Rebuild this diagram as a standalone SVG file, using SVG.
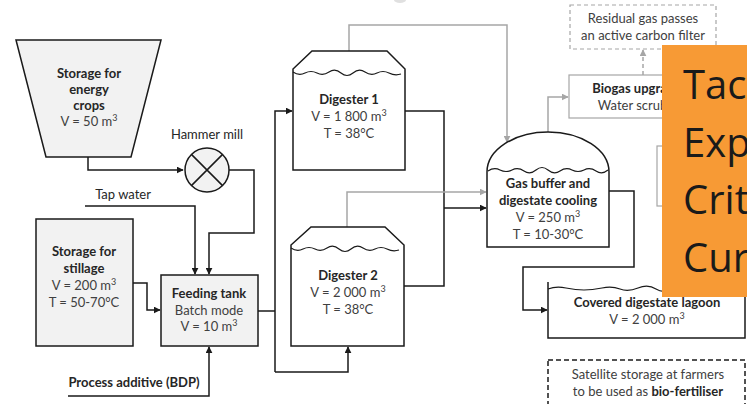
<svg xmlns="http://www.w3.org/2000/svg" width="747" height="404" viewBox="0 0 747 404">
<defs>
<style>
text{font-family:Lato,"Open Sans","Liberation Sans",sans-serif;font-size:13px;fill:#404040;text-anchor:middle}
.b{font-weight:bold;fill:#262626}
.sup{font-size:9px}
.k{stroke:#1a1a1a;stroke-width:1.5;fill:none}
.g{stroke:#a6a6a6;stroke-width:1.5;fill:none}
.shape{stroke:#1a1a1a;stroke-width:1.5;fill:#fff}
.grey{fill:#f2f2f2}
.wave{stroke:#1a1a1a;stroke-width:1.2;fill:none}
.big{font-family:"Open Sans",Lato,sans-serif;font-size:40px;fill:#1a1a1a;text-anchor:start}
</style>
<marker id="ak" viewBox="0 0 10 10" refX="9" refY="5" markerWidth="7" markerHeight="7" orient="auto" markerUnits="userSpaceOnUse"><path d="M0,0 L10,5 L0,10 Z" fill="#1a1a1a"/></marker>
<marker id="ag" viewBox="0 0 10 10" refX="9" refY="5" markerWidth="7" markerHeight="7" orient="auto" markerUnits="userSpaceOnUse"><path d="M0,0 L10,5 L0,10 Z" fill="#a6a6a6"/></marker>
</defs>
<rect width="747" height="404" fill="#fff"/>
<ellipse cx="400" cy="0" rx="6" ry="3" fill="#e0e0e0"/>

<g id="connectors">
<path class="k" d="M88,157 V170 H183" marker-end="url(#ak)"/>
<path class="k" d="M229,170 H254 V233 H209 V274" marker-end="url(#ak)"/>
<path class="k" d="M85,206 H195 V274" marker-end="url(#ak)"/>
<path class="k" d="M133,283 H147 V310 H160" marker-end="url(#ak)"/>
<path class="k" d="M68,396 H209 V347" marker-end="url(#ak)"/>
<path class="k" d="M258,311 H275"/>
<path class="k" d="M275,372 V111 H292" marker-end="url(#ak)"/>
<path class="k" d="M275,372 H348 V347" marker-end="url(#ak)"/>
<path class="k" d="M405,111 H444 V286 H404"/>
<path class="k" d="M444,208 H486" marker-end="url(#ak)"/>
<path class="g" d="M349,51 V25 H507 V142" marker-end="url(#ag)"/>
<path class="g" d="M347,227 V192 H486" marker-end="url(#ag)"/>
<path class="g" d="M548,132 V97 H568" marker-end="url(#ag)"/>
<path class="g" d="M643,75 V50" stroke-dasharray="4,3" marker-end="url(#ag)"/>
<path class="k" d="M609,191 H634 V267 H523 V310 H547" marker-end="url(#ak)"/>
</g>

<g id="storage-energy-crops">
<path class="shape grey" d="M16,40 H161 L131,157 H46 Z"/>
<text class="b" x="89" y="78">Storage for</text>
<text class="b" x="89" y="94">energy</text>
<text class="b" x="89" y="110">crops</text>
<text x="89" y="126">V = 50 m<tspan class="sup" dy="-5">3</tspan></text>
</g>

<g id="hammer-mill">
<circle class="shape grey" cx="207" cy="170" r="22"/>
<path class="k" d="M191.4,154.4 L222.6,185.6 M222.6,154.4 L191.4,185.6"/>
<text x="207" y="139" style="fill:#262626">Hammer mill</text>
</g>

<g id="tap-water"><text x="123" y="199" style="fill:#262626">Tap water</text></g>

<g id="storage-stillage">
<rect class="shape grey" x="36" y="219" width="97" height="127"/>
<text class="b" x="84" y="256">Storage for</text>
<text class="b" x="84" y="273">stillage</text>
<text x="84" y="290">V = 200 m<tspan class="sup" dy="-5">3</tspan></text>
<text x="84" y="307">T = 50-70°C</text>
</g>

<g id="feeding-tank">
<rect class="shape grey" x="161" y="275" width="97" height="71"/>
<text class="b" x="209" y="298">Feeding tank</text>
<text x="209" y="315">Batch mode</text>
<text x="209" y="331">V = 10 m<tspan class="sup" dy="-5">3</tspan></text>
</g>

<g id="process-additive"><text class="b" x="134" y="387">Process additive (BDP)</text></g>

<g id="digester-1">
<path class="shape" d="M293,170 V69 L312,51 H387 L405,69 V170 Z"/>
<path class="wave" d="M293,72 q6,4 12,1 t12,0 t12,-1 t12,1 t12,0 t12,-1 t12,1 t12,0 t12,1"/>
<text class="b" x="349" y="104">Digester 1</text>
<text x="349" y="121">V = 1 800 m<tspan class="sup" dy="-5">3</tspan></text>
<text x="349" y="138">T = 38°C</text>
</g>

<g id="digester-2">
<path class="shape" d="M291,346 V245 L311,227 H385 L404,245 V346 Z"/>
<path class="wave" d="M291,248 q6,4 12,1 t12,0 t12,-1 t12,1 t12,0 t12,-1 t12,1 t12,0 t12,1"/>
<text class="b" x="348" y="280">Digester 2</text>
<text x="348" y="297">V = 2 000 m<tspan class="sup" dy="-5">3</tspan></text>
<text x="348" y="314">T = 38°C</text>
</g>

<g id="gas-buffer">
<path class="shape" d="M487,247 V172 A61,40 0 0 1 609,172 V247 Z"/>
<path class="wave" d="M488,171 q6,-4 12,-1 t12,0 t12,1 t12,-1 t12,0 t12,1 t12,-1 t12,0 t12,1 t12,-1"/>
<text class="b" x="548" y="188">Gas buffer and</text>
<text class="b" x="548" y="205">digestate cooling</text>
<text x="548" y="222">V = 250 m<tspan class="sup" dy="-5">3</tspan></text>
<text x="548" y="239">T = 10-30°C</text>
</g>

<g id="residual-gas">
<rect x="570" y="5" width="146" height="44" fill="#fff" stroke="#a6a6a6" stroke-width="1.2" stroke-dasharray="4,3"/>
<text x="643" y="23">Residual gas passes</text>
<text x="643" y="40">an active carbon filter</text>
</g>

<g id="biogas-upgrading">
<rect x="569" y="75" width="142" height="43" fill="#fff" stroke="#a6a6a6" stroke-width="1.2"/>
<text class="b" x="642" y="93">Biogas upgrading</text>
<text x="642" y="110">Water scrubber</text>
</g>

<g id="hidden-box">
<rect x="657" y="146" width="60" height="60" fill="#fff" stroke="#a6a6a6" stroke-width="1.2"/>
</g>

<g id="lagoon">
<path class="shape" d="M548,282 V338 H745 V282"/>
<path class="wave" d="M548,289 q8,-3 18,-1 t18,2 t18,-2 t18,1 t18,-1 t18,1 t18,-1 t18,1 t18,-1 t18,1 t17,0"/>
<text class="b" x="647" y="307">Covered digestate lagoon</text>
<text x="647" y="324">V = 2 000 m<tspan class="sup" dy="-5">3</tspan></text>
</g>

<g id="satellite-storage">
<rect x="548" y="360" width="197" height="50" fill="#fff" stroke="#1a1a1a" stroke-width="1.5" stroke-dasharray="5,3"/>
<text x="648" y="379">Satellite storage at farmers</text>
<text x="648" y="396">to be used as <tspan class="b">bio-fertiliser</tspan></text>
</g>

<g id="overlay">
<rect x="662" y="45" width="85" height="252" fill="#f79a35"/>
<text class="big" x="683" y="99">Tac</text>
<text class="big" x="683" y="157">Exp</text>
<text class="big" x="683" y="214">Crit</text>
<text class="big" x="683" y="272">Cur</text>
</g>
</svg>
